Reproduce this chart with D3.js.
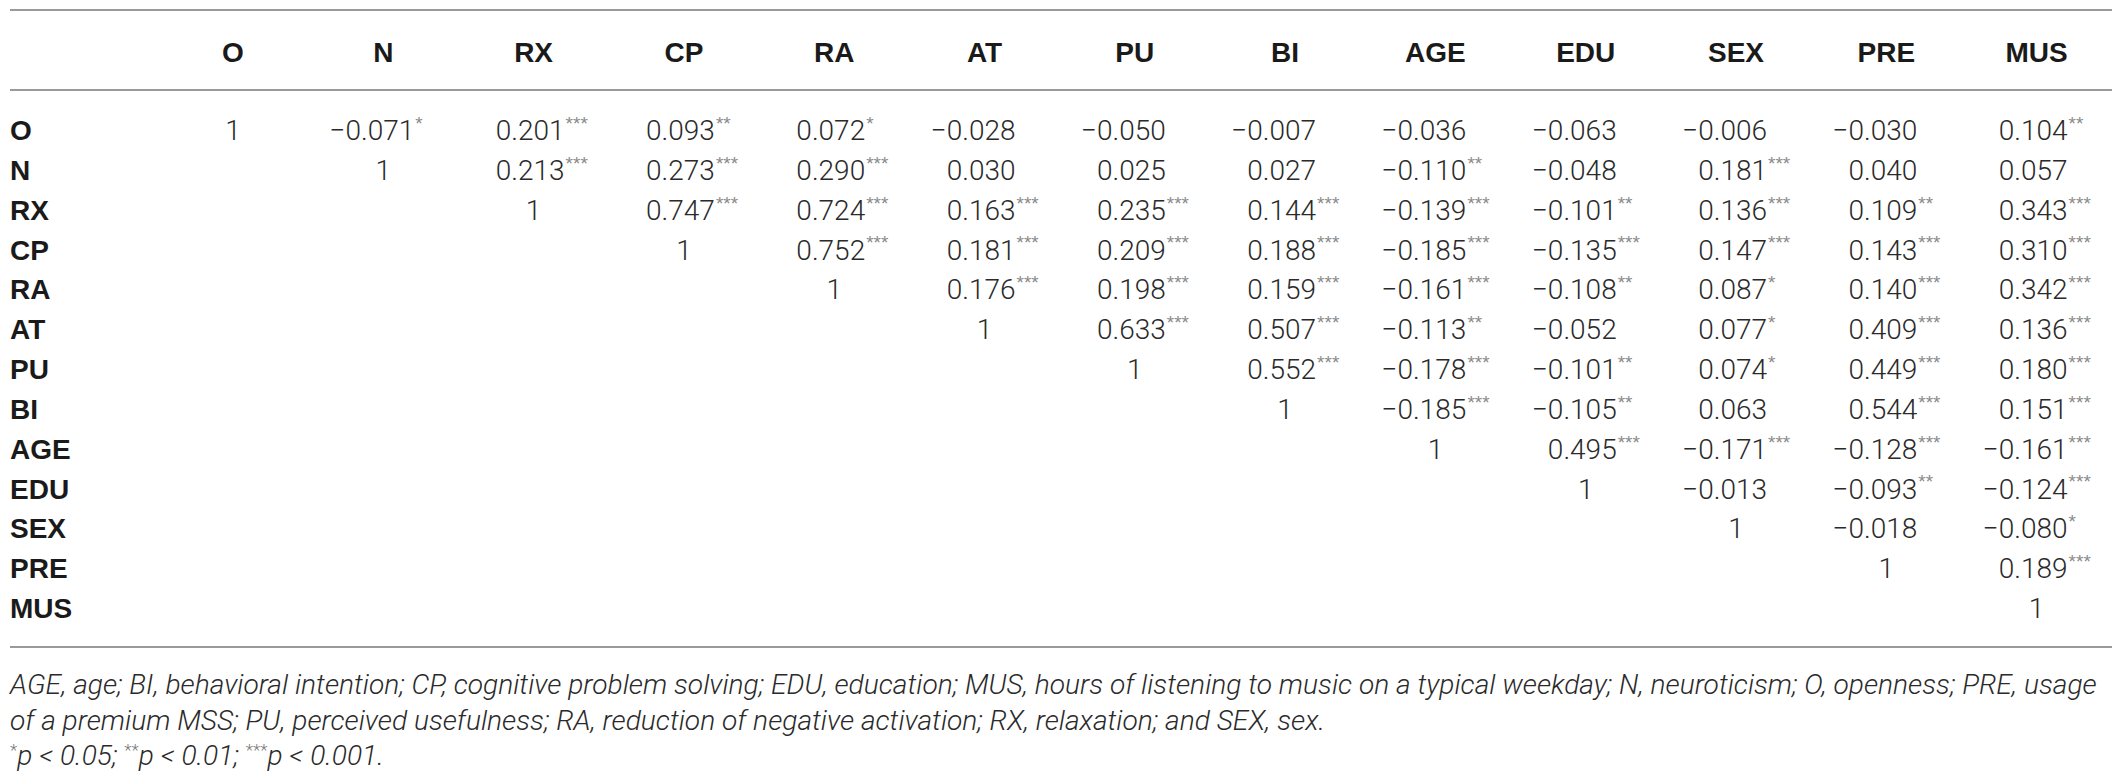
<!DOCTYPE html>
<html>
<head>
<meta charset="utf-8">
<script src="https://cdn.jsdelivr.net/npm/d3@7"></script>
<style>
html,body{margin:0;padding:0;background:#fff;}
svg{display:block;}
</style>
</head>
<body>
<svg id="chart" width="2124" height="779"></svg>
<script>
// ---- data ----
const variables = ["O","N","RX","CP","RA","AT","PU","BI","AGE","EDU","SEX","PRE","MUS"];
// upper triangle of the correlation matrix, each row starts at the diagonal
const rowO   = ["1","-0.071*","0.201***","0.093**","0.072*","-0.028","-0.050","-0.007","-0.036","-0.063","-0.006","-0.030","0.104**"];
const rowN   = ["1","0.213***","0.273***","0.290***","0.030","0.025","0.027","-0.110**","-0.048","0.181***","0.040","0.057"];
const rowRX  = ["1","0.747***","0.724***","0.163***","0.235***","0.144***","-0.139***","-0.101**","0.136***","0.109**","0.343***"];
const rowCP  = ["1","0.752***","0.181***","0.209***","0.188***","-0.185***","-0.135***","0.147***","0.143***","0.310***"];
const rowRA  = ["1","0.176***","0.198***","0.159***","-0.161***","-0.108**","0.087*","0.140***","0.342***"];
const rowAT  = ["1","0.633***","0.507***","-0.113**","-0.052","0.077*","0.409***","0.136***"];
const rowPU  = ["1","0.552***","-0.178***","-0.101**","0.074*","0.449***","0.180***"];
const rowBI  = ["1","-0.185***","-0.105**","0.063","0.544***","0.151***"];
const rowAGE = ["1","0.495***","-0.171***","-0.128***","-0.161***"];
const rowEDU = ["1","-0.013","-0.093**","-0.124***"];
const rowSEX = ["1","-0.018","-0.080*"];
const rowPRE = ["1","0.189***"];
const rowMUS = ["1"];
const rows = [rowO,rowN,rowRX,rowCP,rowRA,rowAT,rowPU,rowBI,rowAGE,rowEDU,rowSEX,rowPRE,rowMUS];

const footLine1 = "AGE, age; BI, behavioral intention; CP, cognitive problem solving; EDU, education; MUS, hours of listening to music on a typical weekday; N, neuroticism; O, openness; PRE, usage";
const footLine2 = "of a premium MSS; PU, perceived usefulness; RA, reduction of negative activation; RX, relaxation; and SEX, sex.";
const pLevels = [["*","p < 0.05; "],["**","p < 0.01; "],["***","p < 0.001."]];

// ---- drawing ----
const svg = d3.select("#chart");
const x = d3.scaleLinear().domain([0, variables.length - 1]).range([233, 233 + 150.3 * 12]);
const y = d3.scaleLinear().domain([0, variables.length - 1]).range([130, 608]);
const digitOffset = 31;

const numFont = "Roboto, 'Liberation Sans', sans-serif";
const boldFont = "'Liberation Sans', Arial, sans-serif";

// rules
const rules = [10, 90, 647];
svg.selectAll("line.rule").data(rules).enter().append("line")
  .attr("x1", 10).attr("x2", 2112)
  .attr("y1", d => d).attr("y2", d => d)
  .attr("stroke", "#9a9a9a").attr("stroke-width", 2);

// header
svg.selectAll("text.head").data(variables).enter().append("text")
  .attr("class","head")
  .attr("x", (d,i) => x(i)).attr("y", 52).attr("dy","0.36em")
  .attr("text-anchor","middle")
  .attr("font-family", boldFont).attr("font-weight", 700).attr("font-size", 28)
  .attr("fill","#1a1a1a").text(d => d);

// row labels
svg.selectAll("text.rowlab").data(variables).enter().append("text")
  .attr("class","rowlab")
  .attr("x", 10).attr("y", (d,i) => y(i)).attr("dy","0.36em")
  .attr("font-family", boldFont).attr("font-weight", 700).attr("font-size", 28)
  .attr("fill","#1a1a1a").text(d => d);

// cells
const cells = [];
rows.forEach((r, ri) => {
  r.forEach((s, k) => {
    const ci = ri + k;
    const m = s.match(/^(-?[0-9.]+)(\**)$/);
    cells.push({ri, ci, num: m[1].replace("-", "\u2212"), stars: m[2], diag: k === 0});
  });
});

const g = svg.append("g");
const cg = g.selectAll("g.cell").data(cells).enter().append("g").attr("class","cell");
cg.append("text")
  .attr("x", d => d.diag ? x(d.ci) : x(d.ci) + digitOffset)
  .attr("y", d => y(d.ri)).attr("dy","0.36em")
  .attr("text-anchor", d => d.diag ? "middle" : "end")
  .attr("font-family", numFont).attr("font-weight", 300).attr("font-size", 28)
  .attr("fill","#2a2a2a").text(d => d.num);
cg.filter(d => d.stars.length > 0).append("text")
  .attr("x", d => x(d.ci) + digitOffset + 1)
  .attr("y", d => y(d.ri)).attr("dy","0.36em")
  .attr("transform","translate(0,-7)")
  .attr("font-family", boldFont).attr("font-size", 19)
  .attr("fill","#8a8a8a").text(d => d.stars);

// footnotes (condensed italic, fitted to the table width)
const footFont = "Roboto, 'Liberation Sans', sans-serif";
const fg = svg.append("g");
const f1 = fg.append("text").attr("x", 0).attr("y", 694)
  .attr("font-family", footFont).attr("font-style","italic").attr("font-weight",300)
  .attr("font-size", 28).attr("fill","#2a2a2a").text(footLine1);
const sx = 2087 / f1.node().getComputedTextLength();
fg.attr("transform", `translate(10,0) scale(${sx},1)`);
fg.append("text").attr("x", 0).attr("y", 730)
  .attr("font-family", footFont).attr("font-style","italic").attr("font-weight",300)
  .attr("font-size", 28).attr("fill","#2a2a2a").text(footLine2);
const f3 = fg.append("text").attr("x", 0).attr("y", 765)
  .attr("font-family", footFont).attr("font-style","italic").attr("font-weight",300)
  .attr("font-size", 28).attr("fill","#2a2a2a");
pLevels.forEach(([st, txt]) => {
  f3.append("tspan").attr("font-size", 17).attr("fill","#777").attr("font-style","normal")
    .attr("dy", -9).text(st);
  f3.append("tspan").attr("dy", 9).text(txt);
});
</script>
</body>
</html>
